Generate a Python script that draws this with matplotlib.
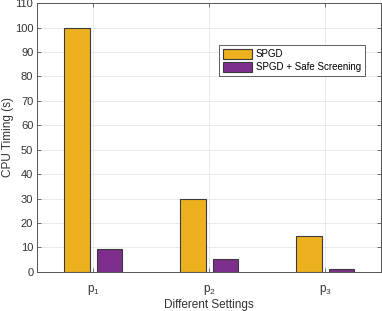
import matplotlib
matplotlib.use("Agg")
import matplotlib.pyplot as plt
import numpy as np

categories = ["p$_1$", "p$_2$", "p$_3$"]
spgd = [100, 30, 14.5]
spgd_safe = [9.5, 5.1, 1.2]
series_names = ["SPGD", "SPGD + Safe Screening"]
yticks = list(range(0, 111, 10))

plt.rcParams['font.family'] = ['Liberation Sans', 'DejaVu Sans']
plt.rcParams['mathtext.default'] = 'regular'

fig = plt.figure(figsize=(3.82, 3.11), dpi=100)
ax = fig.add_axes([0.098, 0.126, 0.899, 0.864])

x = np.arange(1, len(categories) + 1)
w = 0.22
off = 0.14
ax.bar(x - off, spgd, w, color='#EDB120', edgecolor='#3a3a3a', linewidth=0.8, label=series_names[0], zorder=3)
ax.bar(x + off, spgd_safe, w, color='#7E2F8E', edgecolor='#3a3a3a', linewidth=0.8, label=series_names[1], zorder=3)

ax.set_xlim(0.52, 3.48)
ax.set_ylim(0, 110)
ax.set_xticks(x)
ax.set_xticklabels(categories, fontsize=8.5)
ax.set_yticks(yticks)
ax.tick_params(axis='y', labelsize=8, pad=3)
ax.tick_params(axis='x', pad=8)
ax.tick_params(direction='in', length=3, width=0.6, color='#555555', labelcolor='#333333',
               top=True, right=True)
ax.grid(True, color='#e6e6e6', linewidth=0.6, zorder=0)
ax.set_axisbelow(True)
for s in ax.spines.values():
    s.set_color('#555555')
    s.set_linewidth(0.7)

ax.set_xlabel("Different Settings", fontsize=8.5, color='#333333')
ax.set_ylabel("CPU Timing (s)", fontsize=8.5, color='#333333')
ax.xaxis.set_label_coords(0.5, -0.102)
ax.yaxis.set_label_coords(-0.068, 0.5)

leg = ax.legend(loc='upper left', bbox_to_anchor=(0.528, 0.844), fontsize=7,
                frameon=True, fancybox=False, edgecolor='#444444', framealpha=1,
                handlelength=3.0, handleheight=1.2, handletextpad=0.4,
                borderpad=0.4, labelspacing=0.3, borderaxespad=0)
leg.get_frame().set_linewidth(0.6)

fig.savefig("out.png", dpi=100)
